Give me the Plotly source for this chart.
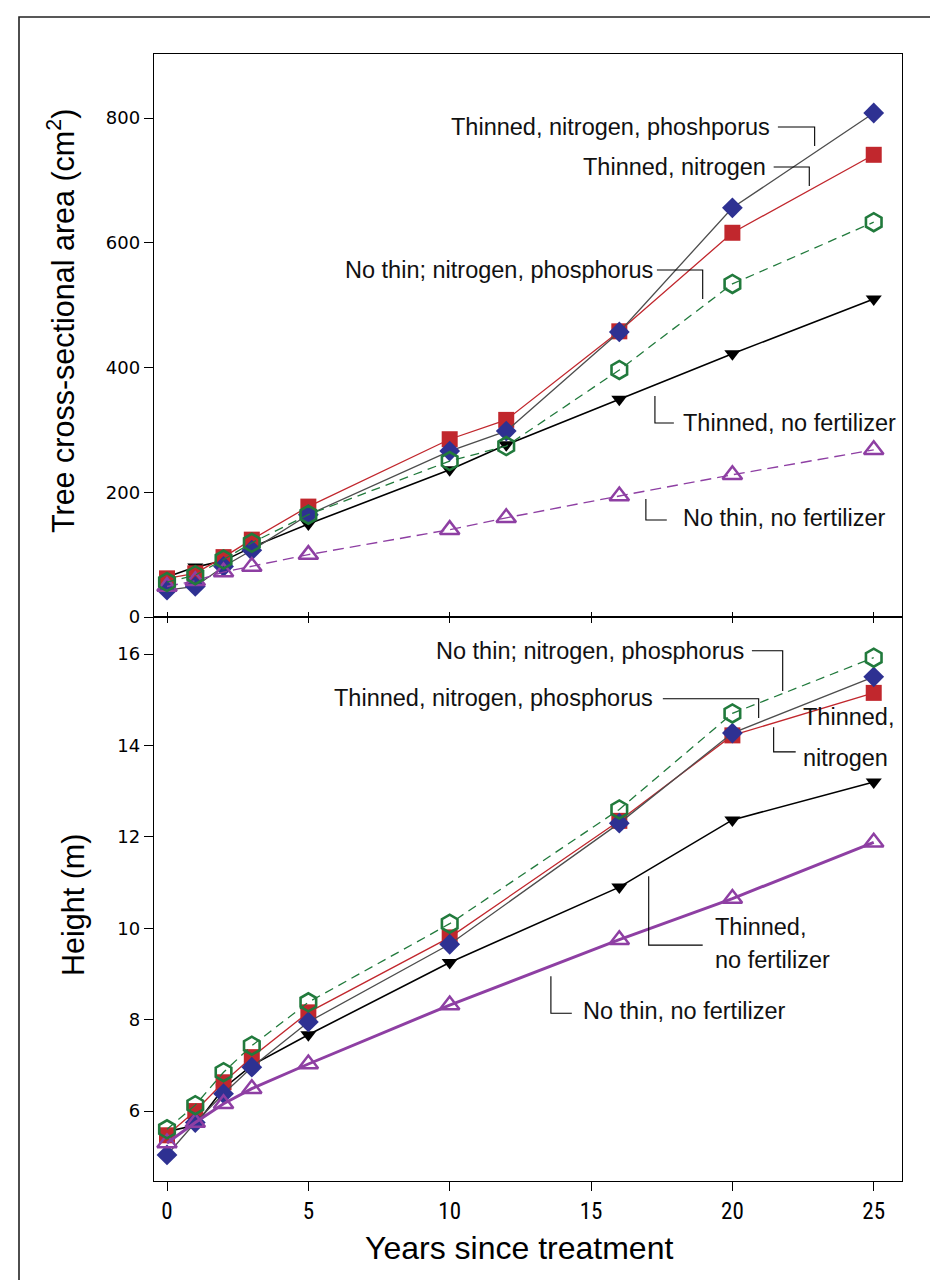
import plotly.graph_objects as go

# ---------------- data ----------------
years_area = [0, 1, 2, 3, 5, 10, 12, 16, 20, 25]
area_thin_np = [43, 49, 81, 107, 164, 266, 298, 457, 656, 808]
area_thin_n = [62, 70, 96, 124, 177, 285, 316, 458, 616, 741]
area_nothin_np = [56, 67, 92, 119, 164, 250, 274, 396, 534, 633]
area_thin_nofert = [64, 80, 90, 112, 149, 236, 276, 349, 422, 510]
area_nothin_nofert = [49, 58, 72, 81, 100, 140, 159, 194, 228, 268]

years_height = [0, 1, 2, 3, 5, 10, 16, 20, 25]
h_thin_np = [5.04, 5.75, 6.38, 6.96, 7.95, 9.65, 12.30, 14.27, 15.50]
h_thin_n = [5.47, 6.00, 6.63, 7.18, 8.16, 9.80, 12.35, 14.22, 15.15]
h_nothin_np = [5.60, 6.13, 6.85, 7.43, 8.38, 10.10, 12.60, 14.70, 15.92]
h_thin_nofert = [5.55, 5.69, 6.50, 7.00, 7.67, 9.25, 10.90, 12.37, 13.20]
h_nothin_nofert = [5.30, 5.75, 6.16, 6.49, 7.03, 8.32, 9.75, 10.65, 11.88]

x_ticks = [0, 5, 10, 15, 20, 25]
area_ticks = [0, 200, 400, 600, 800]
height_ticks = [6, 8, 10, 12, 14, 16]

# ---------------- style ----------------
BLUE = "#2E3192"
RED = "#C1272D"
GREEN = "#217A3C"
PURPLE = "#8E3FA3"
GRAY = "#4D4D4D"
SANS = "Liberation Sans, Arial, sans-serif"
LABEL_FONT = dict(family=SANS, size=23.5, color="#111")
NARROW = "Liberation Sans Narrow, Roboto Condensed, Liberation Sans, sans-serif"
TICK_FONT = dict(family="DejaVu Sans, sans-serif", size=18, color="black")

W, H = 938, 1280
L, R, T, B = 146, 894, 46, 1173
MID = 609
split = (B - MID) / (B - T)
pw, ph = R - L, B - T

fig = go.Figure()

def series(x, y, xa, ya, line, marker, name):
    fig.add_trace(go.Scatter(x=x, y=y, xaxis=xa, yaxis=ya, mode="lines+markers",
                             line=line, marker=marker, name=name, showlegend=False,
                             cliponaxis=False))

# top panel (draw order: black, red, blue, purple, green)
series(years_area, area_thin_nofert, "x", "y", dict(color="black", width=1.6),
       dict(symbol="triangle-down", size=14, color="black"), "Thinned, no fertilizer")
series(years_area, area_thin_n, "x", "y", dict(color=RED, width=1.3),
       dict(symbol="square", size=16, color=RED), "Thinned, nitrogen")
series(years_area, area_thin_np, "x", "y", dict(color=GRAY, width=1.3),
       dict(symbol="diamond", size=16, color=BLUE), "Thinned, nitrogen, phosphorus")
series(years_area, area_nothin_nofert, "x", "y", dict(color=PURPLE, width=1.4, dash="11px,6px"),
       dict(symbol="triangle-up-open", size=17, color=PURPLE, line=dict(width=2.5, color=PURPLE)),
       "No thin, no fertilizer")
series(years_area, area_nothin_np, "x", "y", dict(color=GREEN, width=1.3, dash="9px,6px"),
       dict(symbol="hexagon-open", size=18, color=GREEN, line=dict(width=2.6, color=GREEN)),
       "No thin; nitrogen, phosphorus")

# bottom panel
series(years_height, h_thin_nofert, "x2", "y2", dict(color="black", width=1.6),
       dict(symbol="triangle-down", size=14, color="black"), "Thinned, no fertilizer")
series(years_height, h_thin_n, "x2", "y2", dict(color=RED, width=1.3),
       dict(symbol="square", size=16, color=RED), "Thinned, nitrogen")
series(years_height, h_thin_np, "x2", "y2", dict(color=GRAY, width=1.3),
       dict(symbol="diamond", size=16, color=BLUE), "Thinned, nitrogen, phosphorus")
series(years_height, h_nothin_nofert, "x2", "y2", dict(color=PURPLE, width=3),
       dict(symbol="triangle-up-open", size=17, color=PURPLE, line=dict(width=2.5, color=PURPLE)),
       "No thin, no fertilizer")
series(years_height, h_nothin_np, "x2", "y2", dict(color=GREEN, width=1.3, dash="9px,6px"),
       dict(symbol="hexagon-open", size=18, color=GREEN, line=dict(width=2.6, color=GREEN)),
       "No thin; nitrogen, phosphorus")

# ---------------- annotations ----------------
annotations = []
shapes = []

def label(text, x, y, xref, yref, anchor):
    annotations.append(dict(text=text, x=x, y=y, xref=xref, yref=yref, showarrow=False,
                            xanchor=anchor, yanchor="middle", font=LABEL_FONT))

def leader(pts, xref, yref):
    path = "M " + " L ".join(f"{px},{py}" for px, py in pts)
    shapes.append(dict(type="path", path=path, xref=xref, yref=yref,
                       line=dict(color="black", width=1.1)))

# top panel labels (data coordinates)
label("Thinned, nitrogen, phoshporus", 21.39, 785.6, "x", "y", "right")
leader([(21.61, 785.6), (22.91, 785.6), (22.91, 755.1)], "x", "y")
label("Thinned, nitrogen", 21.25, 721.4, "x", "y", "right")
leader([(21.46, 721.4), (22.72, 721.4), (22.72, 691.0)], "x", "y")
label("No thin; nitrogen, phosphorus", 17.26, 556.3, "x", "y", "right")
leader([(17.33, 556.3), (18.95, 556.3), (18.95, 509.8)], "x", "y")
label("Thinned, no fertilizer", 18.18, 311.0, "x", "y", "left")
leader([(17.26, 354.3), (17.26, 311.0), (17.93, 311.0)], "x", "y")
label("No thin, no fertilizer", 18.18, 158.7, "x", "y", "left")
leader([(16.94, 189.2), (16.94, 155.5), (17.68, 155.5)], "x", "y")

# bottom panel labels
label("No thin; nitrogen, phosphorus", 20.47, 16.07, "x2", "y2", "right")
leader([(20.69, 16.07), (21.78, 16.07), (21.78, 15.19)], "x2", "y2")
label("Thinned, nitrogen, phosphorus", 17.26, 15.04, "x2", "y2", "right")
leader([(17.54, 15.02), (20.93, 15.02), (20.93, 14.60)], "x2", "y2")
label("Thinned,", 22.42, 14.62, "x2", "y2", "left")
label("nitrogen", 22.42, 13.72, "x2", "y2", "left")
leader([(21.46, 14.40), (21.46, 13.86), (22.24, 13.86)], "x2", "y2")
label("Thinned,", 19.31, 10.03, "x2", "y2", "left")
label("no fertilizer", 19.31, 9.31, "x2", "y2", "left")
leader([(17.04, 11.14), (17.04, 9.63), (18.95, 9.63)], "x2", "y2")
label("No thin, no fertilizer", 14.64, 8.20, "x2", "y2", "left")
leader([(13.58, 8.95), (13.58, 8.14), (14.32, 8.14)], "x2", "y2")

# axis titles as paper-positioned annotations
annotations.append(dict(text="Tree cross-sectional area (cm<sup>2</sup>)", textangle=-90,
                        x=(53 - L) / pw, y=(B - 313) / ph, xref="paper", yref="paper",
                        xanchor="center", yanchor="middle", showarrow=False,
                        font=dict(family=SANS, size=30.5, color="black")))
annotations.append(dict(text="Height (m)", textangle=-90,
                        x=(65 - L) / pw, y=(B - 897) / ph, xref="paper", yref="paper",
                        xanchor="center", yanchor="middle", showarrow=False,
                        font=dict(family=SANS, size=30.5, color="black")))
annotations.append(dict(text="Years since treatment",
                        x=(511 - L) / pw, y=(B - 1240) / ph, xref="paper", yref="paper",
                        xanchor="center", yanchor="middle", showarrow=False,
                        font=dict(family=SANS, size=32, color="black")))

# outer border of the figure panel
shapes.append(dict(type="rect", xref="paper", yref="paper",
                   x0=(11 - L) / pw, x1=(931 - L) / pw,
                   y0=(B - 1290) / ph, y1=(B - 9) / ph,
                   line=dict(color="#222", width=1.6), layer="below"))

x_range = [-0.46, 26.0]
axis_common = dict(showline=True, linecolor="black", linewidth=1.4, mirror=True,
                   showgrid=False, zeroline=False)

fig.update_layout(
    width=W, height=H,
    margin=dict(l=L, r=W - R, t=T, b=H - B),
    paper_bgcolor="white", plot_bgcolor="white",
    xaxis=dict(domain=[0, 1], anchor="y", range=x_range, tickvals=x_ticks,
               ticks="outside", ticklen=5, tickcolor="black", showticklabels=False,
               **axis_common),
    xaxis3=dict(overlaying="x", anchor="y", side="bottom", range=x_range, tickvals=x_ticks,
                ticks="inside", ticklen=5, tickcolor="black", showticklabels=False,
                showline=False, showgrid=False, zeroline=False),
    yaxis=dict(domain=[split, 1], anchor="x", range=[0, 902.6], tickvals=area_ticks,
               ticks="outside", ticklen=9, tickcolor="black", tickfont=TICK_FONT,
               **axis_common),
    xaxis2=dict(domain=[0, 1], anchor="y2", range=x_range, tickvals=x_ticks,
                ticks="outside", ticklen=9, tickcolor="black",
                tickfont=dict(family=NARROW, size=23, color="black"),
                **axis_common),
    yaxis2=dict(domain=[0, split], anchor="x2", range=[4.47, 16.81], tickvals=height_ticks,
                ticks="outside", ticklen=9, tickcolor="black", tickfont=TICK_FONT,
                **axis_common),
    annotations=annotations,
    shapes=shapes,
)

# invisible trace to activate the overlay tick axis
fig.add_trace(go.Scatter(x=[0], y=[0], xaxis="x3", yaxis="y", mode="markers",
                         marker=dict(opacity=0), showlegend=False, hoverinfo="skip"))

fig.write_html("out.html")
